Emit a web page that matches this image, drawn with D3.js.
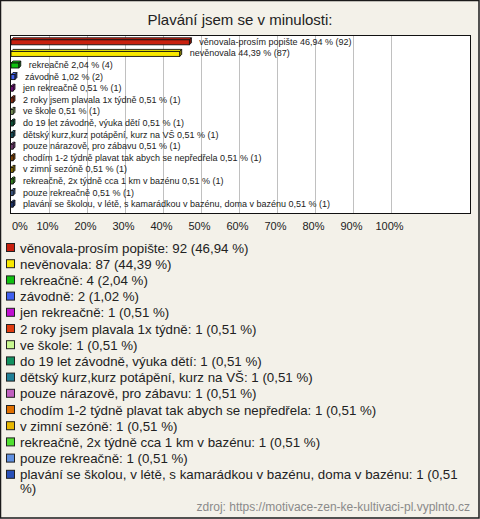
<!DOCTYPE html>
<html>
<head>
<meta charset="utf-8">
<script src="https://cdn.jsdelivr.net/npm/d3@7"></script>
<style>
  html, body { margin: 0; padding: 0; background: #fff; }
  svg { display: block; font-family: "Liberation Sans", Arial, sans-serif; }
</style>
</head>
<body>
<svg id="chart" width="480" height="519"></svg>
<script>
const categories = [
  "věnovala-prosím popište",
  "nevěnovala",
  "rekreačně",
  "závodně",
  "jen rekreačně",
  "2 roky jsem plavala 1x týdně",
  "ve škole",
  "do 19 let závodně, výuka dětí",
  "dětský kurz,kurz potápění, kurz na VŠ",
  "pouze nárazově, pro zábavu",
  "chodím 1-2 týdně plavat tak abych se nepředřela",
  "v zimní sezóně",
  "rekreačně, 2x týdně cca 1 km v bazénu",
  "pouze rekreačně",
  "plavání se školou, v létě, s kamarádkou v bazénu, doma v bazénu"
];
const counts = [92, 87, 4, 2, 1, 1, 1, 1, 1, 1, 1, 1, 1, 1, 1];
const percents = [46.94, 44.39, 2.04, 1.02, 0.51, 0.51, 0.51, 0.51, 0.51, 0.51, 0.51, 0.51, 0.51, 0.51, 0.51];
const colors = [
  "#c8200e", "#f8e800", "#10c010", "#4060f0", "#c010d0",
  "#e03c10", "#c8f890", "#109060", "#208098", "#c060c0",
  "#e07000", "#e8b800", "#50e030", "#6090e0", "#2850b8"
];
const xTicks = [0, 10, 20, 30, 40, 50, 60, 70, 80, 90, 100];
const titleText = "Plavání jsem se v minulosti:";
const sourceText = "zdroj: https://motivace-zen-ke-kultivaci-pl.vyplnto.cz";

const fmt = v => v.toFixed(2).replace(".", ",");

const svg = d3.select("#chart");
const W = 480, H = 519;

// background + frame
svg.append("rect").attr("x", 0.5).attr("y", 0.5).attr("width", W - 1.5).attr("height", H - 1.5)
  .attr("fill", "#f3f1e9").attr("stroke", "#1a1a1a").attr("stroke-width", 1.5);

// title
svg.append("text").attr("x", 240).attr("y", 25).attr("text-anchor", "middle")
  .attr("font-size", 15).attr("fill", "#222").text(titleText);

// plot area
const box = { x0: 10.5, x1: 470.5, y0: 35.5, y1: 213.5 };
const x = d3.scaleLinear().domain([0, 100]).range([11, 391]);
const y = d3.scaleBand().domain(categories).range([36, 210]);

svg.append("rect").attr("x", box.x0).attr("y", box.y0)
  .attr("width", box.x1 - box.x0).attr("height", box.y1 - box.y0)
  .attr("fill", "#fff");

// gridlines
svg.append("g").selectAll("line").data(xTicks.filter(t => t > 0)).join("line")
  .attr("x1", d => Math.round(x(d)) + 0.5).attr("x2", d => Math.round(x(d)) + 0.5)
  .attr("y1", box.y0).attr("y2", box.y1)
  .attr("stroke", "#c0c0c0").attr("stroke-width", 1);

svg.append("rect").attr("x", box.x0).attr("y", box.y0)
  .attr("width", box.x1 - box.x0).attr("height", box.y1 - box.y0)
  .attr("fill", "none").attr("stroke", "#111").attr("stroke-width", 1);

// bars (pseudo 3D)
const barH = 5, depth = 2;
const rows = categories.map((c, i) => ({ c, n: counts[i], p: percents[i], col: colors[i] }));
const bars = svg.append("g").selectAll("g").data(rows).join("g");
bars.each(function(d) {
  const g = d3.select(this);
  const x0 = x(0), x1 = x(d.p);
  const yc = y(d.c) + y.bandwidth() / 2;
  const top = yc - barH / 2 + 0.5;
  const darker = d3.color(d.col).darker(1.2);
  g.append("path")
    .attr("d", `M${x1},${top} L${x1 + depth},${top - depth} L${x1 + depth},${top + barH - depth} L${x1},${top + barH} Z`)
    .attr("fill", darker).attr("stroke", "#111").attr("stroke-width", 0.9);
  g.append("path")
    .attr("d", `M${x0},${top} L${x0 + depth},${top - depth} L${x1 + depth},${top - depth} L${x1},${top} Z`)
    .attr("fill", d3.color(d.col).brighter(0.3)).attr("stroke", "#111").attr("stroke-width", 0.9);
  g.append("rect").attr("x", x0).attr("y", top).attr("width", Math.max(x1 - x0, 0.5)).attr("height", barH)
    .attr("fill", d.col).attr("stroke", "#111").attr("stroke-width", 0.9);
  g.append("text").attr("x", x1 + 10).attr("y", yc + 3)
    .attr("font-size", 9).attr("fill", "#222")
    .text(`${d.c} ${fmt(d.p)} % (${d.n})`);
});

// x axis labels
svg.append("g").selectAll("text").data(xTicks).join("text")
  .attr("x", d => d === 0 ? x(d) + 1 : x(d) - 1.5)
  .attr("y", 230)
  .attr("text-anchor", d => d === 0 ? "start" : "middle")
  .attr("font-size", 11).attr("fill", "#222")
  .text(d => d + "%");

// legend
const legY0 = 248, legStep = 16.2, maxW = 446, lineH = 13.5;
let curY = legY0;
rows.forEach((d) => {
  const g = svg.append("g");
  g.append("rect").attr("x", 6.5).attr("y", curY - 4.5).attr("width", 8).attr("height", 8)
    .attr("fill", d.col).attr("stroke", "#222").attr("stroke-width", 1);
  const label = `${d.c}: ${d.n} (${fmt(d.p)} %)`;
  const t = g.append("text").attr("x", 20).attr("y", curY + 4.5)
    .attr("font-size", 13.3).attr("fill", "#222");
  const words = label.split(" ");
  let line = [];
  let tspan = t.append("tspan").attr("x", 20).attr("y", curY + 4.5);
  let lines = 1;
  words.forEach(w => {
    line.push(w);
    tspan.text(line.join(" "));
    if (tspan.node().getComputedTextLength() > maxW && line.length > 1) {
      line.pop();
      tspan.text(line.join(" "));
      line = [w];
      tspan = t.append("tspan").attr("x", 20).attr("y", curY + 4.5 + lines * lineH).text(w);
      lines++;
    }
  });
  curY += legStep + (lines - 1) * lineH;
});

// source
svg.append("text").attr("x", 470).attr("y", 511).attr("text-anchor", "end")
  .attr("font-size", 12).attr("fill", "#8a8a8a").text(sourceText);
</script>
</body>
</html>
